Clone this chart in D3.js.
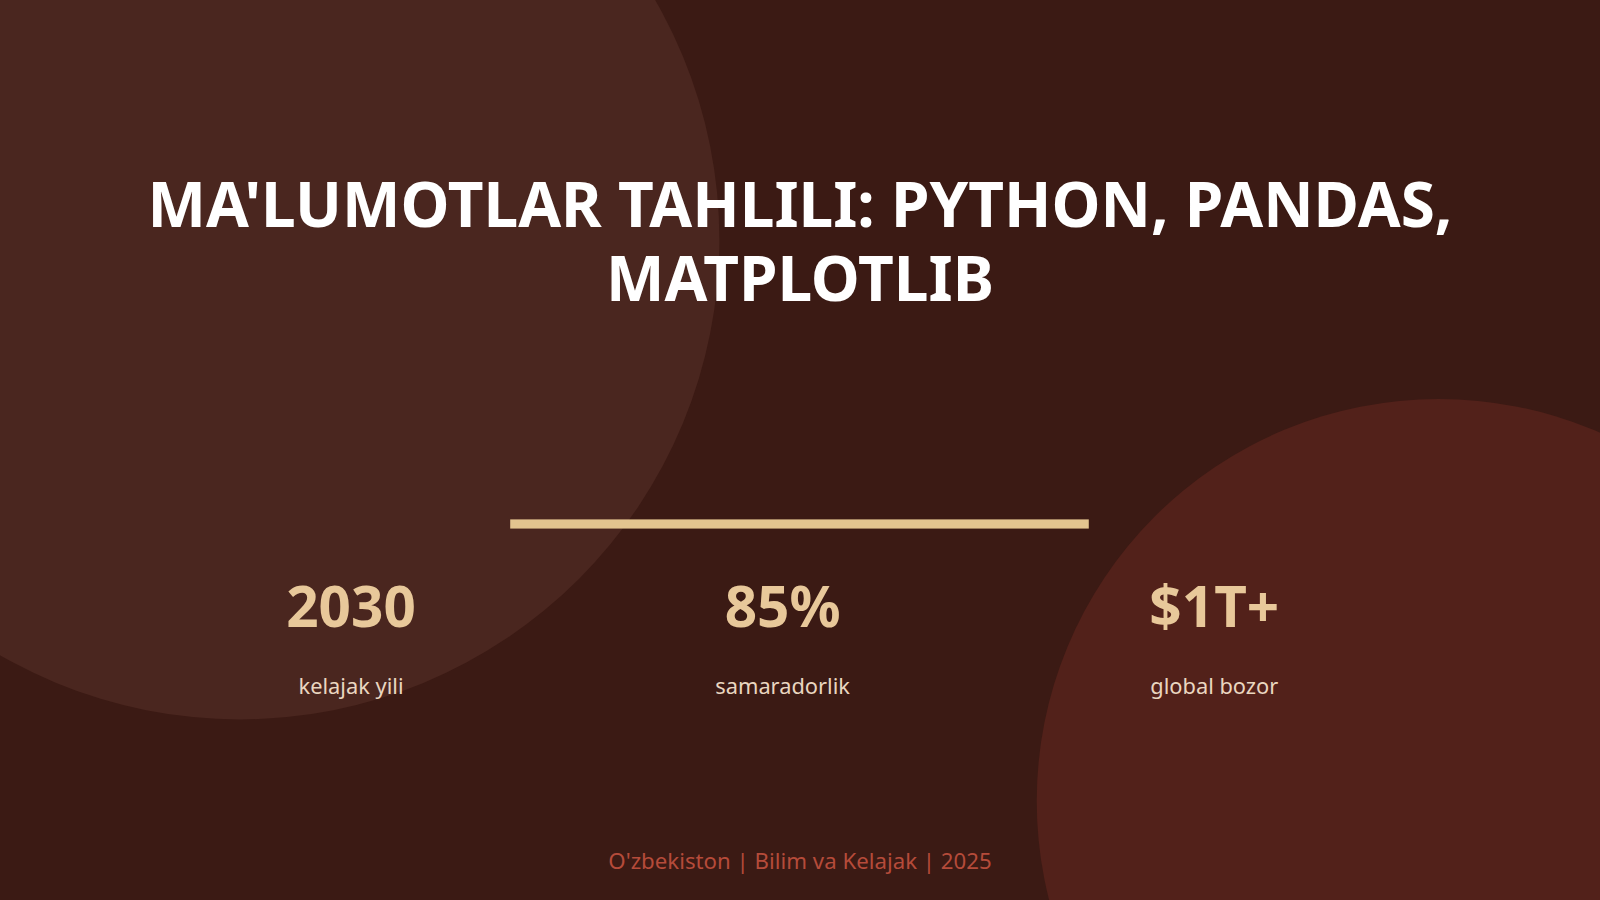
<!DOCTYPE html>
<meta charset="utf-8">
<style>
body { margin: 0; background: #3b1a14; }
text { font-family: "Noto Sans", sans-serif; }
</style>
<body>
<script src="https://d3js.org/d3.v7.min.js"></script>
<script>
// slide content
var titleLines = ["MA'LUMOTLAR TAHLILI: PYTHON, PANDAS,", "MATPLOTLIB"];
var statValues = ["2030", "85%", "$1T+"];
var statLabels = ["kelajak yili", "samaradorlik", "global bozor"];
var footer = "O'zbekiston | Bilim va Kelajak | 2025";

var W = 1568, H = 882;
var svg = d3.select("body").append("svg")
  .attr("width", 1600).attr("height", 900)
  .attr("viewBox", "0 0 " + W + " " + H);

svg.append("rect").attr("width", W).attr("height", H).attr("fill", "#3b1a14");

// decorative circles
svg.append("circle").attr("cx", 235).attr("cy", 235).attr("r", 470)
  .attr("fill", "#4a261f");
svg.append("circle").attr("cx", 1410).attr("cy", 785).attr("r", 394)
  .attr("fill", "#52211a");

// title
svg.selectAll(".title").data(titleLines).enter().append("text")
  .attr("x", W / 2).attr("y", function(d, i) { return 222 + i * 73; })
  .attr("text-anchor", "middle")
  .attr("fill", "#ffffff").attr("font-size", 60.8).attr("font-weight", 700)
  .text(function(d) { return d; });

// divider
svg.append("rect").attr("x", 500).attr("y", 509).attr("width", 567).attr("height", 9)
  .attr("fill", "#e3c48f");

var x = d3.scalePoint().domain(statValues).range([344, 1190]);

svg.selectAll(".val").data(statValues).enter().append("text")
  .attr("x", function(d) { return x(d); }).attr("y", 614)
  .attr("text-anchor", "middle")
  .attr("fill", "#e8c89a").attr("font-size", 55.5).attr("font-weight", 700)
  .text(function(d) { return d; });

svg.selectAll(".lab").data(statLabels).enter().append("text")
  .attr("x", function(d, i) { return x(statValues[i]); }).attr("y", 680)
  .attr("text-anchor", "middle")
  .attr("fill", "#ead6c0").attr("font-size", 21.4)
  .text(function(d) { return d; });

svg.append("text").attr("x", W / 2).attr("y", 852)
  .attr("text-anchor", "middle")
  .attr("fill", "#b54b3a").attr("font-size", 21.8)
  .text(footer);
</script>
</body>
